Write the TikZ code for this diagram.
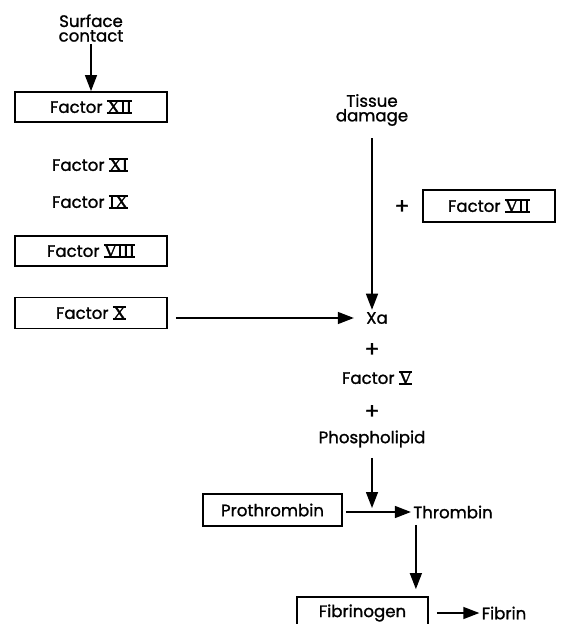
\documentclass[tikz,border=0pt]{standalone}
\usepackage{fontspec}
\setmainfont{Poppins}[FakeBold=1.2]
\newfontfamily\romfont{Liberation Serif}[FakeBold=1.5]
\usetikzlibrary{positioning,calc,arrows.meta}
\newcommand{\romnum}[1]{{\romfont\fontsize{9}{9}\selectfont\setbox0\hbox{#1}\rlap{\rule[-0.4pt]{\wd0}{0.8pt}}\rlap{\rule[\dimexpr\ht0-0.4pt\relax]{\wd0}{0.8pt}}\box0}}
\tikzset{
  box/.style={draw, line width=0.9pt, minimum width=76pt, minimum height=15pt, inner sep=1pt},
  lbl/.style={inner sep=1pt, font=\fontsize{8.3}{7.3}\selectfont},
  arr/.style={line width=0.7pt, -{Triangle[length=8pt, width=6pt]}},
}
\begin{document}
\begin{tikzpicture}[x=0.5pt, y=-0.5pt, every node/.style={lbl}]
			\useasboundingbox (0,0) rectangle (561,624);
			\node[align=center] (surf) at (91,28) {Surface\\contact};
			\node[box] (fXII) at (91,107) {Factor \romnum{XII}};
			\node (fXI) at (90,165) {Factor \romnum{XI}};
			\node (fIX) at (90,202) {Factor \romnum{IX}};
			\node[box] (fVIII) at (91,251) {Factor \romnum{VIII}};
			\node[box, minimum height=15.5pt] (fX) at (91,313) {Factor \romnum{X}};
			\node[align=center] (tis) at (372,110) {Tissue\\damage};
			\node[font=\fontsize{11}{11}\selectfont] (pl1) at (402,207) {+};
			\node[box, minimum width=66pt, minimum height=16pt] (fVII) at (489,206) {Factor \romnum{VII}};
			\node (xa) at (377,318) {Xa};
			\node[font=\fontsize{11}{11}\selectfont] (pl2) at (372,350) {+};
			\node (fV) at (377,378) {Factor \romnum{V}};
			\node[font=\fontsize{11}{11}\selectfont] (pl3) at (372,412) {+};
			\node (phos) at (372,439) {Phospholipid};
			\node[box, minimum width=69.5pt, minimum height=16pt] (proth) at (272.5,510) {Prothrombin};
			\node (thr) at (453,512) {Thrombin};
			\node[box, minimum width=65.5pt, minimum height=16pt] (fibg) at (362.5,613) {Fibrinogen};
			\node (fib) at (504,613) {Fibrin};
			\draw[arr] (surf) -- (fXII);
			\draw[arr, shorten <=5pt] (tis) -- (tis |- xa.north);
			\draw[arr, shorten <=4pt, shorten >=5pt] (fX.east |- xa) -- (xa.west);
			\draw[arr, shorten <=4pt, shorten >=2pt] (phos) -- (phos |- thr);
			\draw[arr, shorten <=1.5pt] (proth.east |- thr) -- (thr.west);
			\coordinate (tdown) at ([xshift=2.5pt]thr.south west);
			\draw[arr, shorten <=2pt, shorten >=3.5pt] (tdown) -- (tdown |- fibg.north);
			\draw[arr, shorten <=4pt] (fibg.east |- fib) -- (fib.west);
		\end{tikzpicture}
\end{document}
